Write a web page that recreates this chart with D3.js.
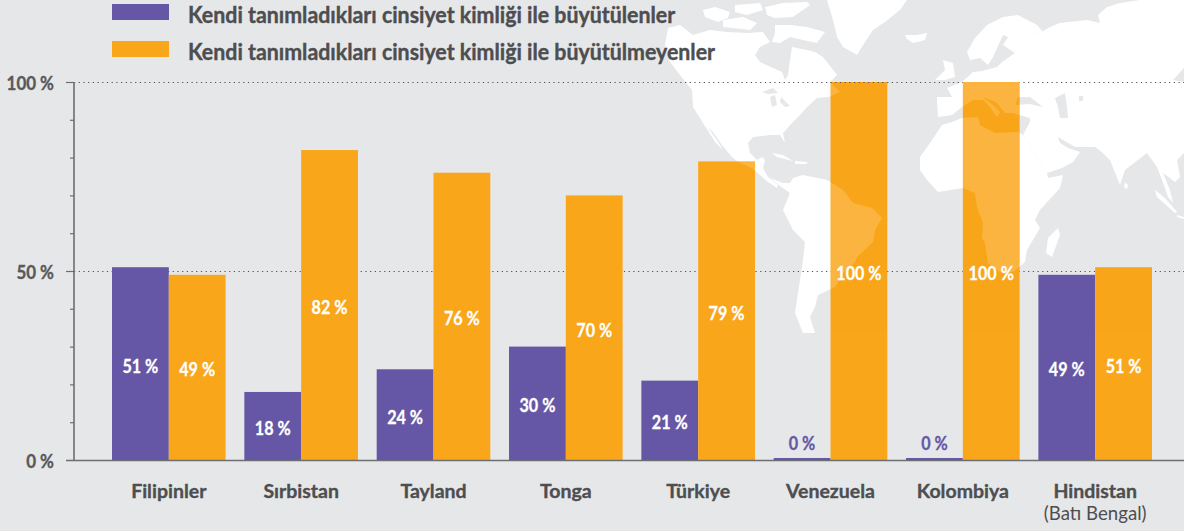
<!DOCTYPE html>
<html lang="tr">
<head>
<meta charset="utf-8">
<script src="https://cdn.jsdelivr.net/npm/d3@7/dist/d3.min.js"></script>
<style>
html,body{margin:0;padding:0;background:#E6E7E9;overflow:hidden}
svg{display:block}
text{font-family:Lato,"Open Sans",sans-serif}
</style>
</head>
<body>
<svg id="chart" width="1184" height="531"></svg>
<script>
const categories = ["Filipinler","Sırbistan","Tayland","Tonga","Türkiye","Venezuela","Kolombiya","Hindistan"];
const categorySubLabels = ["","","","","","","","(Batı Bengal)"];
const raisedAsIdentity = [51,18,24,30,21,0,0,49];
const notRaisedAsIdentity = [49,82,76,70,79,100,100,51];
const legendLabels = ["Kendi tanımladıkları cinsiyet kimliği ile büyütülenler","Kendi tanımladıkları cinsiyet kimliği ile büyütülmeyenler"];
const majorTicks = [0,50,100];
const minorTicks = [10,20,30,40,60,70,80,90];
const seriesKeys = ["a","b"];
const colors = {a:"#6557A6",b:"#FAA61A"};

// Decorative backdrop: simplified world map outlines, in page pixels
const landOutlines = [
 // North America
 [[668,28],[680,25],[693,35],[710,30],[727,32],[747,33],[763,32],[770,42],[760,47],[755,55],[760,62],[773,68],[782,72],[785,80],[788,75],[790,60],[792,47],[807,50],[815,52],[823,57],[830,66],[837,75],[830,82],[840,92],[828,97],[817,98],[807,107],[800,115],[793,122],[783,133],[785,143],[780,135],[770,135],[753,137],[748,143],[750,153],[757,160],[762,157],[765,160],[763,168],[768,177],[778,185],[777,188],[768,182],[752,168],[738,162],[732,157],[722,145],[713,132],[708,128],[717,140],[723,150],[715,142],[703,123],[693,107],[692,90],[680,75],[670,62],[665,45]],
 // Arctic islands
 [[703,10],[715,7],[730,12],[728,18],[718,22],[705,17]],
 [[735,5],[760,3],[763,10],[747,15],[735,12]],
 [[765,7],[783,3],[807,2],[810,5],[793,17],[775,18],[767,15]],
 [[775,25],[790,25],[807,27],[825,32],[817,43],[803,40],[790,37],[780,43],[772,42],[775,33]],
 [[723,20],[743,17],[757,23],[750,30],[733,28],[723,27]],
 // Greenland
 [[827,0],[907,0],[900,10],[885,22],[873,30],[865,42],[857,55],[843,47],[837,37],[833,20]],
 // Iceland
 [[905,35],[917,35],[927,33],[925,40],[913,43],[907,39]],
 // Britain and Ireland
 [[943,60],[953,63],[955,77],[945,80],[935,80],[945,70]],
 // Cuba, Hispaniola
 [[772,153],[783,155],[793,161],[777,157]],
 [[795,161],[808,162],[806,164],[795,164]],
 // South America
 [[770,178],[783,183],[790,183],[793,178],[803,175],[827,180],[843,190],[853,203],[872,208],[882,218],[875,230],[873,242],[857,257],[855,262],[843,273],[835,287],[818,295],[815,307],[810,317],[815,333],[803,333],[795,313],[798,293],[803,260],[805,242],[793,230],[783,210],[790,193],[780,186]],
 // Eurasia
 [[937,103],[938,117],[952,115],[962,107],[973,100],[983,100],[990,107],[997,117],[1000,112],[992,104],[982,97],[996,102],[1005,113],[1012,113],[1030,118],[1030,122],[1023,135],[1027,140],[1047,173],[1062,168],[1073,162],[1080,152],[1068,148],[1060,143],[1058,137],[1075,147],[1095,147],[1103,153],[1110,160],[1120,185],[1125,170],[1147,153],[1157,167],[1162,180],[1168,197],[1173,203],[1170,190],[1163,173],[1175,182],[1180,177],[1177,160],[1184,153],[1184,82],[1173,80],[1184,68],[1184,0],[1140,0],[1120,3],[1107,7],[1098,15],[1100,23],[1087,20],[1060,23],[1050,27],[1040,33],[1030,35],[1043,32],[1037,25],[1018,15],[1003,17],[987,25],[975,38],[967,52],[970,60],[980,58],[988,65],[993,57],[1003,35],[1008,37],[1003,45],[1015,53],[1002,62],[997,67],[982,71],[973,72],[962,82],[947,88],[952,97],[937,97]],
 // Africa
 [[1023,135],[1027,140],[1047,173],[1048,178],[1063,175],[1060,188],[1040,210],[1035,220],[1040,228],[1027,250],[1025,262],[1013,272],[1000,272],[988,263],[985,243],[982,238],[983,223],[977,207],[975,193],[963,188],[938,192],[927,180],[920,170],[920,157],[930,143],[942,125],[952,122],[962,118],[978,117],[980,125],[995,133],[1018,132]],
 // Madagascar
 [[1058,228],[1060,235],[1052,257],[1046,253],[1048,238]],
 // Sumatra, Java
 [[1155,190],[1165,198],[1177,212],[1175,213],[1157,197]],
 [[1177,215],[1184,217],[1184,219],[1177,217]],
 // Sri Lanka
 [[1125,182],[1128,185],[1127,189],[1124,187]]
];
const inlandSeas = [
 // Black Sea
 [[1015,105],[1018,97],[1030,97],[1043,107],[1030,104]],
 // Caspian
 [[1055,98],[1065,93],[1067,107],[1068,118],[1060,118],[1058,107]],
 // Aral
 [[1079,96],[1083,96],[1083,101],[1079,101]],
 // Great Lakes
 [[762,92],[773,88],[778,93],[768,94]],
 [[770,97],[775,95],[777,105],[772,107]],
 [[781,97],[786,102],[790,106],[785,107],[780,102]]
];

const svg = d3.select("#chart");
const W = 1184;
const bg = "#E6E7E9";
const ink = "#4D4E50";
const axisColor = "#6D6E71";

const x0 = d3.scaleBand().domain(categories).range([112,1152]).paddingInner(0.1415);
const x1 = d3.scaleBand().domain(seriesKeys).range([0,x0.bandwidth()]);
const y = d3.scaleLinear().domain([0,100]).range([460,82]);

const rows = categories.map((c,i)=>({c,i,a:raisedAsIdentity[i],b:notRaisedAsIdentity[i]}));
const marks = rows.flatMap(r=>seriesKeys.map(k=>({c:r.c,k,v:r[k]})));
const barH = d => Math.max(y(0)-y(d.v),2);

const outline = d3.line().curve(d3.curveLinearClosed);

// Map
const drawLand = g => g.selectAll("path.land").data(landOutlines).join("path")
  .attr("class","land").attr("d",outline).attr("fill","#fff");
const landG = svg.append("g");
drawLand(landG);
landG.selectAll("path.sea").data(inlandSeas).join("path")
  .attr("class","sea").attr("d",outline).attr("fill",bg);

// Gridlines
svg.append("g").selectAll("line").data([50,100]).join("line")
  .attr("x1",74).attr("x2",W).attr("y1",d=>y(d)+0.5).attr("y2",d=>y(d)+0.5)
  .attr("stroke","#4D4E50").attr("stroke-width",1.1).attr("stroke-dasharray","1.2 3.5");

// Bars
svg.append("g").selectAll("rect").data(marks).join("rect")
  .attr("x",d=>x0(d.c)+x1(d.k)).attr("width",x1.bandwidth())
  .attr("y",d=>y(0)-barH(d)).attr("height",barH)
  .attr("fill",d=>colors[d.k]);

// Map showing faintly through the orange bars
const defs = svg.append("defs");
defs.append("clipPath").attr("id","orangeBars").selectAll("rect")
  .data(marks.filter(d=>d.k==="b")).join("rect")
  .attr("x",d=>x0(d.c)+x1(d.k)).attr("width",x1.bandwidth())
  .attr("y",d=>y(d.v)).attr("height",d=>y(0)-y(d.v));
const ghost = svg.append("g").attr("clip-path","url(#orangeBars)").attr("opacity",0.166);
drawLand(ghost);
ghost.selectAll("path.sea").data(inlandSeas.slice(0,1)).join("path")
  .attr("class","sea").attr("d",outline).attr("fill","#FAA61A");

// The dotted 100 % line stays visible across the Venezuela bar's top edge
svg.append("line")
  .attr("x1",x0("Venezuela")+x1("b")).attr("x2",x0("Venezuela")+x1("b")+x1.bandwidth())
  .attr("y1",y(100)+0.5).attr("y2",y(100)+0.5)
  .attr("stroke","#4D4E50").attr("stroke-width",1.1).attr("stroke-dasharray","1.2 3.5");

// Helper: fit the installed font to the condensed proportions of the reference
function condense(sel,f){
  sel.each(function(){
    const n=this.getComputedTextLength();
    d3.select(this).attr("textLength",n*f).attr("lengthAdjust","spacingAndGlyphs");
  });
  return sel;
}

// Axes
const axisG = svg.append("g").attr("stroke",axisColor);
axisG.append("line").attr("x1",74).attr("x2",74).attr("y1",y(100)).attr("y2",y(0)).attr("stroke-width",1.6);
axisG.append("line").attr("x1",66).attr("x2",W).attr("y1",y(0)+0.5).attr("y2",y(0)+0.5).attr("stroke-width",1.6);
axisG.selectAll("line.maj").data(majorTicks.slice(1)).join("line").attr("class","maj")
  .attr("x1",66).attr("x2",74).attr("y1",d=>y(d)+0.5).attr("y2",d=>y(d)+0.5).attr("stroke-width",1.2);
axisG.selectAll("line.min").data(minorTicks).join("line").attr("class","min")
  .attr("x1",70).attr("x2",74).attr("y1",d=>y(d)+0.5).attr("y2",d=>y(d)+0.5).attr("stroke-width",1.2);

condense(svg.append("g").selectAll("text").data(majorTicks).join("text")
  .attr("x",54).attr("y",d=>y(d)+8).attr("text-anchor","end")
  .attr("font-size",18).attr("font-weight",700).attr("fill","#58595B")
  .attr("stroke","#58595B").attr("stroke-width",0.35)
  .text(d=>d+" %"),0.94);

// Value labels
condense(svg.append("g").selectAll("text").data(marks).join("text")
  .attr("x",d=>x0(d.c)+x1(d.k)+x1.bandwidth()/2)
  .attr("y",d=>d.v===0 ? y(0)-10 : (y(d.v)+y(0))/2+9)
  .attr("text-anchor","middle").attr("font-size",19).attr("font-weight",700)
  .attr("fill",d=>d.v===0 ? colors.a : "#fff")
  .attr("stroke",d=>d.v===0 ? colors.a : "#fff").attr("stroke-width",0.3)
  .text(d=>d.v+" %"),0.85);

// Category labels: one text per category, a second line where it has one
const catText = svg.append("g").selectAll("text").data(categories).join("text")
  .attr("text-anchor","middle").attr("font-size",19).attr("fill",ink);
const catX = c => x0(c)+x0.bandwidth()/2;
condense(catText.append("tspan").attr("x",catX).attr("y",497.5)
  .attr("font-weight",700).attr("stroke",ink).attr("stroke-width",0.35).text(d=>d),1.025);
condense(catText.filter((d,i)=>categorySubLabels[i]).append("tspan")
  .attr("x",catX).attr("y",520.4).attr("font-weight",400)
  .text(d=>categorySubLabels[categories.indexOf(d)]),0.98);

// Legend
const legendY = d3.scalePoint().domain(legendLabels).range([4,41]);
svg.append("g").selectAll("rect").data(legendLabels).join("rect")
  .attr("x",112).attr("width",57).attr("height",16).attr("y",d=>legendY(d))
  .attr("fill",(d,i)=>colors[seriesKeys[i]]);
condense(svg.append("g").selectAll("text").data(legendLabels).join("text")
  .attr("x",188).attr("y",d=>legendY(d)+18.7)
  .attr("font-size",22.4).attr("font-weight",700).attr("fill",ink)
  .attr("stroke",ink).attr("stroke-width",0.4)
  .text(d=>d),0.953);
</script>
</body>
</html>
